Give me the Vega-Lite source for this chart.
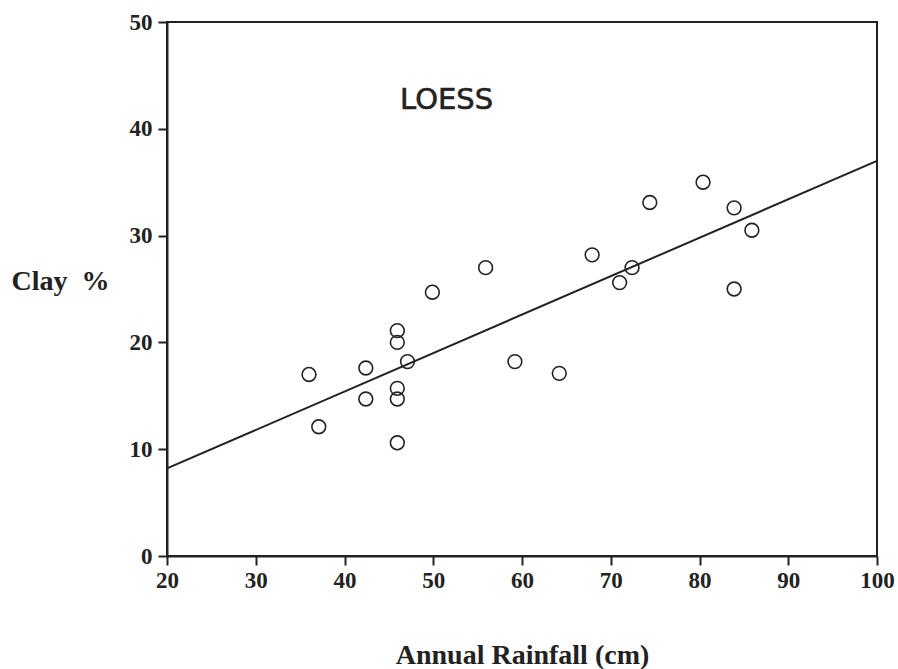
{
  "$schema": "https://vega.github.io/schema/vega-lite/v6.json",
  "width": 710,
  "height": 534,
  "autosize": {"type": "none"},
  "padding": {"left": 167, "top": 22, "right": 21, "bottom": 113},
  "background": "white",
  "config": {
    "view": {"stroke": "#222", "strokeWidth": 2},
    "axis": {
      "grid": false,
      "domainColor": "#222",
      "domainWidth": 2,
      "tickColor": "#222",
      "tickWidth": 2,
      "tickSize": 9,
      "labelFont": "Liberation Serif",
      "labelFontWeight": "bold",
      "labelFontSize": 23,
      "labelColor": "#222",
      "labelFlush": false,
      "labelOverlap": false,
      "titleFont": "Liberation Serif",
      "titleFontWeight": "bold",
      "titleFontSize": 28,
      "titleColor": "#222"
    }
  },
  "datasets": {
    "pts": [
      {"rain": 36.0, "clay": 17.0},
      {"rain": 37.1, "clay": 12.1},
      {"rain": 42.4, "clay": 17.6},
      {"rain": 42.4, "clay": 14.7},
      {"rain": 45.95, "clay": 21.1},
      {"rain": 45.95, "clay": 20.0},
      {"rain": 45.95, "clay": 15.7},
      {"rain": 45.95, "clay": 14.7},
      {"rain": 45.95, "clay": 10.6},
      {"rain": 47.1, "clay": 18.2},
      {"rain": 49.9, "clay": 24.7},
      {"rain": 55.9, "clay": 27.0},
      {"rain": 59.2, "clay": 18.2},
      {"rain": 64.2, "clay": 17.1},
      {"rain": 67.9, "clay": 28.2},
      {"rain": 71.0, "clay": 25.6},
      {"rain": 72.4, "clay": 27.0},
      {"rain": 74.4, "clay": 33.1},
      {"rain": 80.4, "clay": 35.0},
      {"rain": 83.9, "clay": 32.6},
      {"rain": 85.9, "clay": 30.5},
      {"rain": 83.9, "clay": 25.0}
    ],
    "fit": [
      {"rain": 20, "clay": 8.2},
      {"rain": 100, "clay": 37.0}
    ],
    "label": [
      {"rain": 51.5, "clay": 42.7, "text": "LOESS"}
    ]
  },
  "encoding": {
    "x": {
      "field": "rain",
      "type": "quantitative",
      "scale": {"domain": [20, 100], "nice": false, "zero": false},
      "axis": {
        "values": [20, 30, 40, 50, 60, 70, 80, 90, 100],
        "title": "Annual Rainfall (cm)",
        "labelPadding": 4,
        "titleY": 107,
        "titleBaseline": "alphabetic"
      }
    },
    "y": {
      "field": "clay",
      "type": "quantitative",
      "scale": {"domain": [0, 50], "nice": false},
      "axis": {
        "values": [0, 10, 20, 30, 40, 50],
        "title": "Clay\u00a0\u00a0%",
        "labelPadding": 6,
        "titleAngle": 0,
        "titleAlign": "left",
        "titleBaseline": "middle",
        "titleX": -156,
        "titleY": 259
      }
    }
  },
  "layer": [
    {
      "data": {"name": "fit"},
      "mark": {"type": "line", "color": "#222", "strokeWidth": 2}
    },
    {
      "data": {"name": "pts"},
      "mark": {"type": "point", "shape": "circle", "filled": false, "size": 190, "strokeWidth": 1.6, "color": "#222", "opacity": 1}
    },
    {
      "data": {"name": "label"},
      "mark": {"type": "text", "font": "DejaVu Sans", "fontSize": 29, "fontWeight": "normal", "color": "#222", "stroke": "#222", "strokeWidth": 0.6, "align": "center", "baseline": "middle"},
      "encoding": {"text": {"field": "text"}}
    }
  ]
}
